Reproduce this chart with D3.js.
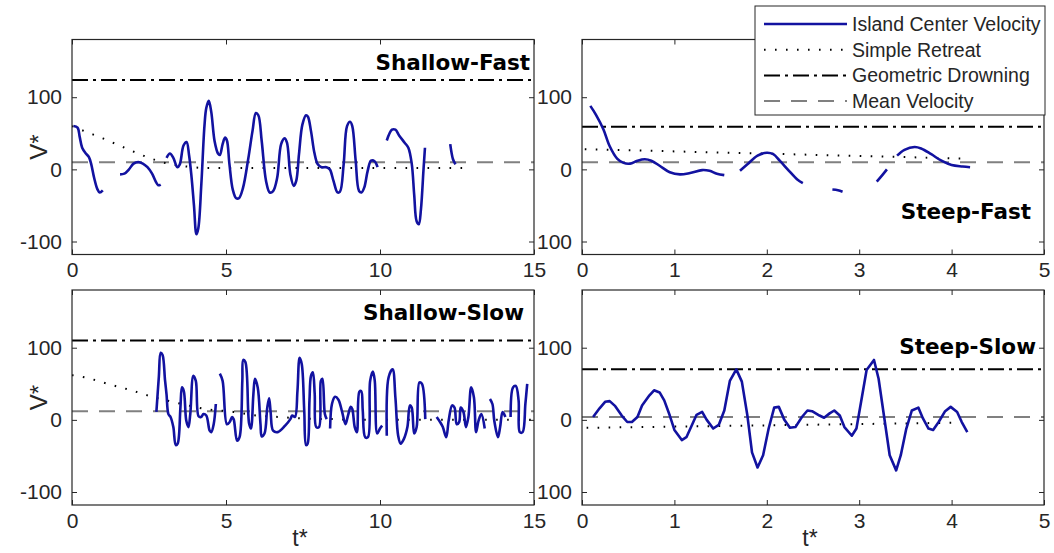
<!DOCTYPE html>
<html>
<head>
<meta charset="utf-8">
<script src="https://cdn.jsdelivr.net/npm/d3@7"></script>
<style>
  html, body { margin: 0; padding: 0; background: #fff; }
  svg { display: block; }
  text { font-family: "Liberation Sans", Arial, sans-serif; fill: #262626; }
  .title { font-family: "DejaVu Sans", Verdana, sans-serif; font-weight: bold; fill: #000; }
</style>
</head>
<body>
<svg id="chart" width="1054" height="553"></svg>
<script>
// ---------- data ----------
// Island center velocity V* against t*, one array of segments per case (gaps between segments)
const shallowFastVelocity = [
  [[0.05,60],[0.18,58],[0.25,45],[0.33,30],[0.45,22],[0.55,17],[0.62,8],[0.72,-12],[0.82,-27],[0.9,-32],[1.0,-29]],
  [[1.56,-7],[1.7,-6],[1.85,0],[2.0,8],[2.15,10],[2.3,8],[2.45,3],[2.6,-6],[2.72,-17],[2.8,-22],[2.88,-21]],
  [[3.07,16],[3.18,22],[3.29,16],[3.42,3],[3.5,7],[3.62,33],[3.72,38],[3.8,20],[3.88,-10],[3.96,-50],[4.04,-90],
   [4.1,-82],[4.2,-20],[4.3,60],[4.36,85],[4.44,95],[4.52,80],[4.63,39],[4.74,22],[4.8,20],[4.89,35],[4.97,44],
   [5.03,40],[5.11,8],[5.22,-28],[5.33,-40],[5.42,-40],[5.55,-26],[5.72,14],[5.86,53],[5.97,78],[6.05,75],
   [6.16,39],[6.3,-16],[6.42,-32],[6.53,-30],[6.66,-12],[6.79,35],[6.9,43],[6.98,37],[7.09,-7],[7.2,-23],
   [7.28,-16],[7.37,21],[7.48,62],[7.6,75],[7.66,73],[7.76,53],[7.87,23],[7.98,7],[8.1,3],[8.26,3],[8.37,0],
   [8.49,-16],[8.62,-32],[8.7,-31],[8.82,7],[8.93,60],[9.03,66],[9.1,60],[9.21,12],[9.32,-30],[9.4,-32],
   [9.49,-25],[9.6,-2],[9.71,12],[9.83,11],[9.92,3]],
  [[10.22,40],[10.39,55],[10.5,55],[10.62,47],[10.8,37],[10.92,30],[11.03,8],[11.11,-35],[11.19,-72],[11.26,-76],
   [11.33,-55],[11.41,-2],[11.46,30]],
  [[12.28,35],[12.37,14],[12.45,7]]
];
const steepFastVelocity = [
  [[0.09,88],[0.15,76],[0.23,56],[0.3,32],[0.38,15],[0.45,9],[0.52,8],[0.6,12],[0.68,14],[0.75,12],[0.84,5],
   [0.95,-4],[1.06,-7],[1.17,-5],[1.3,-1],[1.38,-2],[1.46,-6],[1.54,-8]],
  [[1.71,-2],[1.79,7],[1.9,19],[2.0,23],[2.07,21],[2.14,12],[2.24,-2],[2.33,-14],[2.39,-19]],
  [[2.71,-28],[2.77,-29],[2.82,-31]],
  [[3.19,-17],[3.25,-8],[3.3,0]],
  [[3.41,19],[3.49,27],[3.6,31],[3.67,29],[3.78,21],[3.89,12],[4.0,6],[4.12,4],[4.2,3]]
];
const shallowSlowVelocity = [
  [[2.74,11],[2.82,60],[2.88,93],[2.94,90],[3.02,55],[3.07,35],[3.13,8],[3.2,4],[3.29,-10],[3.37,-35],[3.43,-33],
   [3.52,17],[3.57,45],[3.63,40],[3.71,-1],[3.78,-10],[3.84,8],[3.94,61],[4.02,54],[4.11,5],[4.19,4],[4.27,8],
   [4.36,6],[4.47,-15],[4.52,-17],[4.6,-6],[4.67,22]],
  [[4.8,64],[4.89,54],[5.03,-6],[5.12,-3],[5.2,4],[5.25,1],[5.36,-29],[5.44,-24],[5.53,54],[5.56,83],[5.63,80],
   [5.75,-5],[5.81,-12],[5.89,36],[5.94,57],[6.03,45],[6.12,-6],[6.16,-23],[6.25,-19],[6.34,17],[6.4,30],
   [6.45,10],[6.53,-15],[6.68,-17],[6.92,-8],[7.09,1],[7.15,6],[7.24,4],[7.32,40],[7.39,86],[7.46,77],[7.54,13],
   [7.6,-35],[7.65,-33],[7.71,27],[7.76,61],[7.82,66],[7.88,36],[7.93,-10],[8.02,-10],[8.08,54],[8.13,57],
   [8.21,8],[8.27,1]],
  [[8.38,-12],[8.44,22],[8.54,32],[8.65,28],[8.77,11],[8.88,-6],[8.96,6],[9.05,18],[9.1,15],[9.18,-10],
   [9.25,-17],[9.33,39],[9.39,40],[9.44,13],[9.52,-24],[9.61,-24],[9.68,54],[9.77,67],[9.83,54],[9.91,-19],
   [10.0,-12],[10.07,-8]],
  [[10.22,-22],[10.28,59],[10.41,70],[10.5,31],[10.59,-22],[10.67,-33],[10.78,-26],[10.89,-10],[10.97,20],
   [11.03,17],[11.11,-19],[11.19,-10],[11.28,52],[11.36,50],[11.47,1]],
  [[11.84,4],[11.95,-3],[12.04,-10],[12.15,-24],[12.23,-1],[12.34,20],[12.42,17],[12.49,-6],[12.57,-3],
   [12.62,17],[12.71,11],[12.79,-10],[12.87,4],[12.96,45],[13.05,31],[13.12,-17],[13.2,-1],[13.29,8],[13.4,-12]],
  [[13.57,29],[13.65,22],[13.71,-1],[13.83,-24],[13.9,-10],[13.98,11],[14.07,4]],
  [[14.24,4],[14.32,45],[14.41,47],[14.5,27],[14.54,-17],[14.63,-17],[14.72,22],[14.78,50]]
];
const steepSlowVelocity = [
  [[0.12,4],[0.19,16],[0.25,25],[0.3,26],[0.36,19],[0.43,6],[0.49,-3],[0.54,-3],[0.6,4],[0.65,20],[0.73,34],
   [0.78,41],[0.84,38],[0.89,27],[0.95,6],[1.0,-14],[1.08,-28],[1.13,-24],[1.19,-7],[1.24,7],[1.3,11],[1.35,0],
   [1.42,-12],[1.48,-7],[1.54,13],[1.6,54],[1.67,70],[1.73,53],[1.79,6],[1.84,-45],[1.9,-66],[1.96,-49],
   [2.02,-12],[2.08,17],[2.13,18],[2.19,0],[2.25,-11],[2.31,-10],[2.38,4],[2.44,13],[2.49,12],[2.57,6],
   [2.62,3],[2.68,9],[2.73,13],[2.79,6],[2.84,-10],[2.92,-22],[2.97,-12],[3.03,32],[3.08,69],[3.16,83],
   [3.21,57],[3.27,4],[3.33,-49],[3.4,-70],[3.45,-49],[3.51,-12],[3.57,13],[3.64,17],[3.69,2],[3.75,-12],
   [3.8,-14],[3.86,-3],[3.93,12],[3.99,18],[4.06,11],[4.11,-3],[4.17,-17]]
];

// Simple retreat curves
const shallowFastRetreat = [[0,60],[0.4,53],[1,43],[1.6,32],[2.2,21],[2.7,13],[3.2,7],[3.7,4],[4.3,2],[12.8,2]];
const steepFastRetreat   = [[0.03,28],[4.12,15]];
const shallowSlowRetreat = [[0,62],[0.4,59],[1.23,49],[2,40],[2.45,34],[3.57,22],[4.35,15],[5.25,11],[6,6],
                            [6.7,4],[7.5,2],[8.5,1],[9.5,0],[15,0]];
const steepSlowRetreat   = [[0.05,-11],[4.05,-4]];

// Geometric drowning and mean velocity levels: [shallowFast, steepFast, shallowSlow, steepSlow]
const drowningLevels = [124, 59, 110, 70];
const meanLevels     = [10, 10, 12, 4];

// Axis ticks
const yTicks = [-100, 0, 100];
const shallowXTicks = [0, 5, 10, 15];
const steepXTicks = [0, 1, 2, 3, 4, 5];
const leftYTickLabels = ["-100", "0", "100"];
const rightYTickLabels = ["100", "0", "100"];

const panelTitles = ["Shallow-Fast", "Steep-Fast", "Shallow-Slow", "Steep-Slow"];
const legendLabels = ["Island Center Velocity", "Simple Retreat", "Geometric Drowning", "Mean Velocity"];

// ---------- layout ----------
const W = 462, H = 215;
const yDomain = [-118, 180];
const BLUE = "#1212a0";
const FONT = "'Liberation Sans', Arial, sans-serif";
const styles = {
  velocity: { stroke: BLUE, width: 2.6, dash: null },
  retreat:  { stroke: "#000", width: 2, dash: "1.6,9.4" },
  drowning: { stroke: "#000", width: 2, dash: "16,5,3,5" },
  mean:     { stroke: "#808080", width: 2, dash: "16,11" }
};

const panels = [
  { x0: 72,  y0: 39.5, xDomain: [0, 15], xTicks: shallowXTicks, yLabels: leftYTickLabels,
    vel: shallowFastVelocity, ret: shallowFastRetreat, idx: 0, curve: d3.curveCatmullRom,
    titleX: 530, titleY: 70, vLabel: true, tLabel: false },
  { x0: 582, y0: 39.5, xDomain: [0, 5], xTicks: steepXTicks, yLabels: rightYTickLabels,
    vel: steepFastVelocity, ret: steepFastRetreat, idx: 1, curve: d3.curveCatmullRom,
    titleX: 1031, titleY: 219, vLabel: false, tLabel: false },
  { x0: 72,  y0: 290, xDomain: [0, 15], xTicks: shallowXTicks, yLabels: leftYTickLabels,
    vel: shallowSlowVelocity, ret: shallowSlowRetreat, idx: 2, curve: d3.curveCatmullRom,
    titleX: 524, titleY: 320, vLabel: true, tLabel: true },
  { x0: 582, y0: 290, xDomain: [0, 5], xTicks: steepXTicks, yLabels: rightYTickLabels,
    vel: steepSlowVelocity, ret: steepSlowRetreat, idx: 3, curve: d3.curveLinear,
    titleX: 1036, titleY: 354, vLabel: false, tLabel: true }
];

const svg = d3.select("#chart");
svg.append("rect").attr("width", 1054).attr("height", 553).attr("fill", "#fff");

function styled(sel, s) {
  sel.attr("fill", "none").attr("stroke", s.stroke).attr("stroke-width", s.width);
  if (s.dash) sel.attr("stroke-dasharray", s.dash);
  return sel;
}

panels.forEach((p, i) => {
  const x = d3.scaleLinear().domain(p.xDomain).range([0, W]);
  const y = d3.scaleLinear().domain(yDomain).range([H, 0]);
  const g = svg.append("g").attr("transform", `translate(${p.x0},${p.y0})`);

  const clipId = "clip" + i;
  g.append("clipPath").attr("id", clipId).append("rect").attr("width", W).attr("height", H);
  const plot = g.append("g").attr("clip-path", `url(#${clipId})`);

  const line = d3.line().x(d => x(d[0])).y(d => y(d[1]));

  // reference levels across the whole panel
  styled(plot.append("path"), styles.mean)
    .attr("d", line([[p.xDomain[0], meanLevels[p.idx]], [p.xDomain[1], meanLevels[p.idx]]]));
  styled(plot.append("path"), styles.drowning)
    .attr("d", line([[p.xDomain[0], drowningLevels[p.idx]], [p.xDomain[1], drowningLevels[p.idx]]]));
  styled(plot.append("path"), styles.retreat)
    .attr("d", line.curve(d3.curveMonotoneX)(p.ret));

  // velocity segments
  const velLine = d3.line().x(d => x(d[0])).y(d => y(d[1])).curve(p.curve);
  plot.selectAll(".vel").data(p.vel).join("path").attr("class", "vel")
    .call(s => styled(s, styles.velocity))
    .attr("stroke-linejoin", "round")
    .attr("d", velLine);

  // axes with inward ticks on all four sides
  const tickLen = 5;
  const ax = g.append("g").attr("class", "axes");
  const bottom = d3.axisBottom(x).tickValues(p.xTicks).tickFormat(d3.format("d"))
    .tickSizeInner(-tickLen).tickSizeOuter(0).tickPadding(8);
  const top = d3.axisTop(x).tickValues(p.xTicks).tickSizeInner(-tickLen).tickSizeOuter(0).tickFormat("");
  const left = d3.axisLeft(y).tickValues(yTicks).tickSizeInner(-tickLen).tickSizeOuter(0).tickPadding(10)
    .tickFormat((d, k) => p.yLabels[k]);
  const right = d3.axisRight(y).tickValues(yTicks).tickSizeInner(-tickLen).tickSizeOuter(0).tickFormat("");

  ax.append("g").attr("transform", `translate(0,${H})`).call(bottom);
  ax.append("g").call(top);
  ax.append("g").call(left);
  ax.append("g").attr("transform", `translate(${W},0)`).call(right);
  ax.selectAll(".domain").remove();
  ax.selectAll(".tick line").attr("stroke", "#262626").attr("stroke-width", 1);
  ax.selectAll(".tick text").attr("font-size", 21).attr("fill", "#262626").attr("font-family", FONT);

  g.append("rect").attr("width", W).attr("height", H)
    .attr("fill", "none").attr("stroke", "#262626").attr("stroke-width", 1.2);

  // panel title
  svg.append("text").attr("class", "title")
    .attr("x", p.titleX).attr("y", p.titleY)
    .attr("text-anchor", "end").attr("font-size", 21.5)
    .text(panelTitles[p.idx]);

  if (p.vLabel) {
    svg.append("text")
      .attr("transform", `translate(47,${p.y0 + H / 2}) rotate(-90)`)
      .attr("text-anchor", "middle").attr("font-size", 24).attr("font-family", FONT)
      .text("V*");
  }
  if (p.tLabel) {
    svg.append("text")
      .attr("x", p.x0 + W / 2 - 3).attr("y", 546)
      .attr("text-anchor", "middle").attr("font-size", 23).attr("font-family", FONT)
      .text("t*");
  }
});

// ---------- legend ----------
const legend = svg.append("g").attr("transform", "translate(755,6)");
const legendW = 290, legendH = 109, rowH = 25.7, firstRow = 18;
legend.append("rect").attr("width", legendW).attr("height", legendH)
  .attr("fill", "#fff").attr("stroke", "#262626").attr("stroke-width", 1);
const legendStyles = [styles.velocity, styles.retreat, styles.drowning, styles.mean];
legendLabels.forEach((lab, k) => {
  const yy = firstRow + k * rowH;
  styled(legend.append("line"), legendStyles[k])
    .attr("x1", 9).attr("x2", 92).attr("y1", yy).attr("y2", yy);
  legend.append("text").attr("x", 97).attr("y", yy).attr("dy", "0.35em")
    .attr("font-size", 19.5).attr("font-family", FONT).text(lab);
});
</script>
</body>
</html>
